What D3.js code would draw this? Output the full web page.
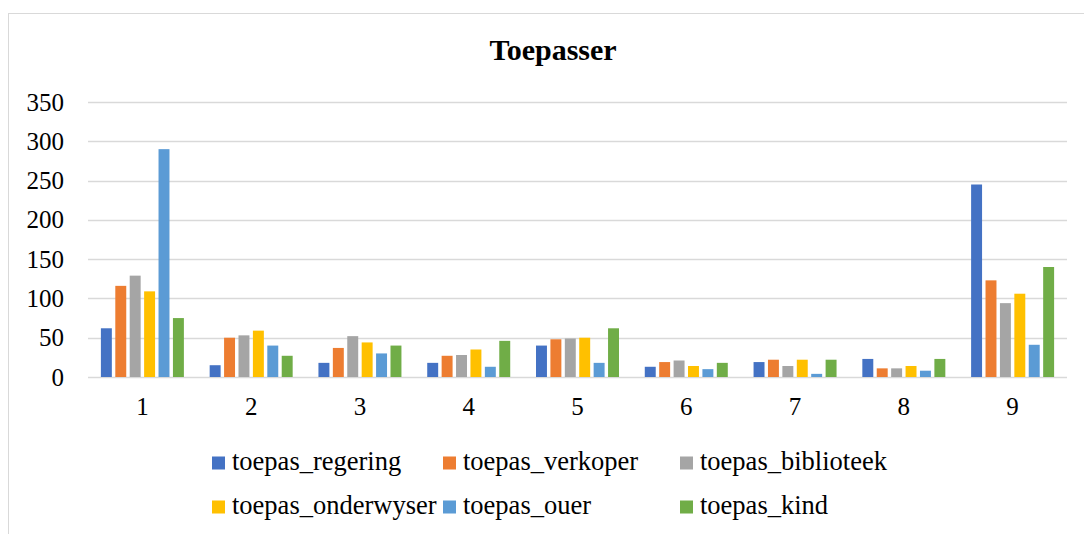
<!DOCTYPE html>
<html>
<head>
<meta charset="utf-8">
<script src="https://cdn.jsdelivr.net/npm/d3@7"></script>
<style>
  body { margin: 0; background: #fff; }
  text { font-family: "Liberation Serif", "Times New Roman", serif; fill: #000; }
</style>
</head>
<body>
<div class="chart"></div>
<script>
// data
var categories = ["1", "2", "3", "4", "5", "6", "7", "8", "9"];
var seriesNames = ["toepas_regering", "toepas_verkoper", "toepas_biblioteek",
                   "toepas_onderwyser", "toepas_ouer", "toepas_kind"];
var regering   = [62, 15, 18, 18, 40, 13, 19, 23, 245];
var verkoper   = [116, 50, 37, 27, 48, 19, 22, 11, 123];
var biblioteek = [129, 53, 52, 28, 49, 21, 14, 11, 94];
var onderwyser = [109, 59, 44, 35, 50, 14, 22, 14, 106];
var ouer       = [290, 40, 30, 13, 18, 10, 4, 8, 41];
var kind       = [75, 27, 40, 46, 62, 18, 22, 23, 140];
var yTicks = [0, 50, 100, 150, 200, 250, 300, 350];

var seriesValues = [regering, verkoper, biblioteek, onderwyser, ouer, kind];
var colors = ["#4472C4", "#ED7D31", "#A5A5A5", "#FFC000", "#5B9BD5", "#70AD47"];

var W = 1084, H = 534;
var margin = {top: 102, right: 17, bottom: 157, left: 88},
    width = W - margin.left - margin.right,
    height = H - margin.top - margin.bottom;

var root = d3.select(".chart").append("svg")
    .attr("width", W)
    .attr("height", H);

// outer chart frame (cut off at right and bottom)
root.append("rect")
    .attr("x", 8.5).attr("y", 13.5)
    .attr("width", 1200).attr("height", 700)
    .attr("fill", "none")
    .attr("stroke", "#d9d9d9")
    .attr("stroke-width", 1);

root.append("text")
    .attr("x", 553)
    .attr("y", 60)
    .attr("text-anchor", "middle")
    .style("font-size", "30px")
    .style("font-weight", "bold")
    .text("Toepasser");

var svg = root.append("g")
    .attr("transform", "translate(" + margin.left + "," + margin.top + ")");

var x0 = d3.scaleBand()
    .domain(categories)
    .range([0, width])
    .paddingInner(0.237)
    .paddingOuter(0.1185);

var x1 = d3.scaleBand()
    .domain(d3.range(seriesNames.length))
    .range([0, x0.bandwidth()])
    .paddingInner(0.24);

var y = d3.scaleLinear()
    .domain([0, 350])
    .range([height, 0]);

// gridlines
svg.selectAll(".grid")
    .data(yTicks)
    .enter().append("line")
    .attr("class", "grid")
    .attr("x1", 0)
    .attr("x2", width)
    .attr("y1", function(d){ return Math.round(y(d)) + 0.5; })
    .attr("y2", function(d){ return Math.round(y(d)) + 0.5; })
    .attr("stroke", "#d9d9d9")
    .attr("stroke-width", 1.3);

// bars
var groups = svg.selectAll(".cat")
    .data(categories)
    .enter().append("g")
    .attr("class", "cat")
    .attr("transform", function(d){ return "translate(" + x0(d) + ",0)"; });

groups.selectAll("rect")
    .data(function(d, i){
      return seriesValues.map(function(vals, s){ return {s: s, v: vals[i]}; });
    })
    .enter().append("rect")
    .attr("x", function(d){ return x1(d.s); })
    .attr("width", x1.bandwidth())
    .attr("y", function(d){ return y(d.v); })
    .attr("height", function(d){ return y(0) - y(d.v); })
    .attr("fill", function(d){ return colors[d.s]; });

// y axis
var yAxis = d3.axisLeft(y).tickValues(yTicks).tickSize(0).tickPadding(24);
svg.append("g")
    .attr("class", "y axis")
    .call(yAxis)
    .call(function(g){ g.select(".domain").remove(); })
    .selectAll("text")
    .style("font-family", "'Liberation Serif', 'Times New Roman', serif")
    .style("font-size", "25px");

// x axis
var xAxis = d3.axisBottom(x0).tickSize(0).tickPadding(20);
svg.append("g")
    .attr("class", "x axis")
    .attr("transform", "translate(0," + height + ")")
    .call(xAxis)
    .call(function(g){ g.select(".domain").remove(); })
    .selectAll("text")
    .style("font-family", "'Liberation Serif', 'Times New Roman', serif")
    .style("font-size", "25px");

// legend
var legendCols = [212, 443, 680];
var legendRows = [463, 507];
var legend = root.selectAll(".legend")
    .data(seriesNames)
    .enter().append("g")
    .attr("class", "legend")
    .attr("transform", function(d, i){
      return "translate(" + legendCols[i % 3] + "," + legendRows[Math.floor(i / 3)] + ")";
    });

legend.append("rect")
    .attr("x", 0).attr("y", -6.5)
    .attr("width", 13).attr("height", 13)
    .attr("fill", function(d, i){ return colors[i]; });

legend.append("text")
    .attr("x", 20)
    .attr("y", 6.5)
    .style("font-size", "26.5px")
    .text(function(d){ return d; });
</script>
</body>
</html>
